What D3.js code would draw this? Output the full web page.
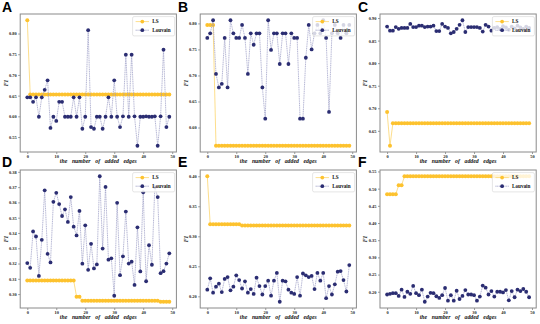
<!DOCTYPE html>
<html><head><meta charset="utf-8">
<script src="https://cdn.jsdelivr.net/npm/d3@7"></script>
<style>
html,body{margin:0;padding:0;background:#fff;}
svg{display:block;}
</style></head>
<body>
<svg id="chart" width="540" height="324"></svg>
<script>
// ---------- data ----------
const addedEdges = [0,1,2,3,4,5,6,7,8,9,10,11,12,13,14,15,16,17,18,19,20,21,22,23,24,25,26,27,28,29,30,31,32,33,34,35,36,37,38,39,40,41,42,43,44,45,46,47,48,49];
const xTickValues = [0,10,20,30,40,50];
const panelLetters = ["A","B","C","D","E","F"];
const seriesNames = ["LS","Louvain"];

const lsA = [0.832,0.653,0.653,0.653,0.653,0.653,0.653,0.653,0.653,0.653,0.653,0.653,0.653,0.653,0.653,0.653,0.653,0.653,0.653,0.653,0.653,0.653,0.653,0.653,0.653,0.653,0.653,0.653,0.653,0.653,0.653,0.653,0.653,0.653,0.653,0.653,0.653,0.653,0.653,0.653,0.653,0.653,0.653,0.653,0.653,0.653,0.653,0.653,0.653,0.653];
const louvainA = [0.646,0.646,0.635,0.646,0.599,0.646,0.664,0.687,0.572,0.599,
 0.589,0.635,0.635,0.599,0.599,0.599,0.646,0.599,0.646,0.570,
 0.599,0.808,0.574,0.570,0.599,0.599,0.570,0.599,0.646,0.599,
 0.687,0.599,0.574,0.600,0.749,0.599,0.749,0.600,0.529,0.599,
 0.599,0.600,0.599,0.599,0.600,0.529,0.600,0.761,0.574,0.599];
const ticksA = [0.55,0.60,0.65,0.70,0.75,0.80];

const lsB = [0.797,0.797,0.797,0.565,0.565,0.565,0.565,0.565,0.565,0.565,0.565,0.565,0.565,0.565,0.565,0.565,0.565,0.565,0.565,0.565,0.565,0.565,0.565,0.565,0.565,0.565,0.565,0.565,0.565,0.565,0.565,0.565,0.565,0.565,0.565,0.565,0.565,0.565,0.565,0.565,0.565,0.565,0.565,0.565,0.565,0.565,0.565,0.565,0.565,0.565];
const louvainB = [0.772,0.781,0.806,0.703,0.677,0.684,0.772,0.677,0.806,0.781,
 0.772,0.772,0.797,0.772,0.703,0.781,0.759,0.781,0.781,0.677,
 0.617,0.806,0.749,0.781,0.781,0.722,0.781,0.781,0.722,0.781,
 0.772,0.772,0.617,0.617,0.734,0.797,0.750,0.781,0.797,0.781,
 0.806,0.772,0.630,0.781,0.797,0.781,0.772,0.797,0.781,0.797];
const ticksB = [0.60,0.65,0.70,0.75,0.80];

const lsC = [0.692,0.617,0.667,0.667,0.667,0.667,0.667,0.667,0.667,0.667,0.667,0.667,0.667,0.667,0.667,0.667,0.667,0.667,0.667,0.667,0.667,0.667,0.667,0.667,0.667,0.667,0.667,0.667,0.667,0.667,0.667,0.667,0.667,0.667,0.667,0.667,0.667,0.667,0.667,0.667,0.667,0.667,0.667,0.667,0.667,0.667,0.667,0.667,0.667,0.667];
const louvainC = [0.881,0.872,0.872,0.880,0.876,0.878,0.878,0.878,0.887,0.880,
 0.880,0.883,0.883,0.880,0.881,0.881,0.883,0.871,0.871,0.887,
 0.881,0.878,0.866,0.869,0.876,0.885,0.895,0.869,0.880,0.880,
 0.880,0.880,0.878,0.870,0.885,0.881,0.872,0.878,0.880,0.876,
 0.882,0.879,0.874,0.881,0.877,0.883,0.879,0.876,0.881,0.878];
const ticksC = [0.65,0.70,0.75,0.80,0.85,0.90];

const lsD = [0.3089,0.3089,0.3089,0.3089,0.3089,0.3089,0.3089,0.3089,0.3089,0.3089,0.3089,0.3089,0.3089,0.3089,0.3089,0.3089,0.3089,0.2983,0.2983,0.2956,0.2956,0.2956,0.2956,0.2956,0.2956,0.2956,0.2956,0.2956,0.2956,0.2956,0.2956,0.2956,0.2956,0.2956,0.2956,0.2956,0.2956,0.2956,0.2956,0.2956,0.2956,0.2956,0.2956,0.2956,0.2956,0.2956,0.2950,0.2950,0.2950,0.2950];
const louvainD = [0.3203,0.3172,0.3410,0.3377,0.3119,0.3355,0.3679,0.3263,0.3207,0.3604,
 0.3663,0.3589,0.3511,0.3555,0.3472,0.3635,0.3441,0.3384,0.3544,0.3199,
 0.3450,0.3159,0.3329,0.3168,0.3194,0.3771,0.3298,0.3701,0.3225,0.3234,
 0.2989,0.3597,0.3124,0.3247,0.3540,0.3200,0.3212,0.3060,0.3437,0.3148,
 0.3666,0.3084,0.3320,0.3192,0.3700,0.3635,0.3137,0.3150,0.3200,0.3267];
const ticksD = [0.30,0.31,0.32,0.33,0.34,0.35,0.36,0.37,0.38];

const lsE = [0.400,0.320,0.320,0.320,0.320,0.320,0.320,0.320,0.320,0.320,0.320,0.320,0.318,0.318,0.318,0.318,0.318,0.318,0.318,0.318,0.318,0.318,0.318,0.318,0.318,0.318,0.318,0.318,0.318,0.318,0.318,0.318,0.318,0.318,0.318,0.318,0.318,0.318,0.318,0.318,0.318,0.318,0.318,0.318,0.318,0.318,0.318,0.318,0.318,0.318];
const louvainE = [0.211,0.230,0.206,0.216,0.221,0.207,0.229,0.232,0.210,0.216,
 0.235,0.227,0.213,0.225,0.206,0.212,0.204,0.231,0.217,0.203,
 0.217,0.226,0.201,0.226,0.239,0.191,0.226,0.225,0.211,0.206,
 0.204,0.232,0.201,0.238,0.235,0.232,0.234,0.212,0.239,0.226,
 0.239,0.197,0.217,0.203,0.220,0.241,0.242,0.227,0.208,0.252];
const ticksE = [0.20,0.25,0.30,0.35,0.40];

const lsF = [0.484,0.484,0.484,0.484,0.510,0.510,0.536,0.536,0.536,0.536,0.536,0.536,0.536,0.536,0.536,0.536,0.536,0.536,0.536,0.536,0.536,0.536,0.536,0.536,0.536,0.536,0.536,0.536,0.536,0.536,0.536,0.536,0.536,0.536,0.536,0.536,0.536,0.536,0.536,0.536,0.536,0.536,0.536,0.536,0.536,0.536,0.536,0.536,0.536,0.536];
const louvainF = [0.192,0.194,0.196,0.196,0.188,0.206,0.185,0.200,0.194,0.217,
 0.196,0.190,0.206,0.171,0.186,0.197,0.196,0.187,0.182,0.190,
 0.211,0.174,0.190,0.174,0.203,0.179,0.188,0.205,0.192,0.192,
 0.190,0.174,0.186,0.218,0.212,0.192,0.202,0.186,0.200,0.200,
 0.198,0.205,0.175,0.202,0.184,0.206,0.202,0.208,0.200,0.184];
const ticksF = [0.20,0.25,0.30,0.35,0.40,0.45,0.50,0.55];

// ---------- drawing ----------
const panels = [
  {ls: lsA, lv: louvainA, ticks: ticksA},
  {ls: lsB, lv: louvainB, ticks: ticksB},
  {ls: lsC, lv: louvainC, ticks: ticksC},
  {ls: lsD, lv: louvainD, ticks: ticksD},
  {ls: lsE, lv: louvainE, ticks: ticksE},
  {ls: lsF, lv: louvainF, ticks: ticksF}
];

const colLS = "#FDC22E", colLV = "#2B2D72";
const lineLS = "#FCD66F", lineLV = "#9597C2";
const serif = "'Liberation Serif','Times New Roman',serif";
const svg = d3.select("#chart");

const plotLeft = [20.2, 200.2, 380];
const plotTop = [14, 170];
const pw = 156.2, ph = 138;
const letterX = [2, 178, 358];
const letterY = [12, 167];

panels.forEach((p, i) => {
  const col = i % 3, row = Math.floor(i / 3);
  const x0 = plotLeft[col], y0 = plotTop[row];
  const x = d3.scaleLinear().domain([-2.45, 51.45]).range([x0, x0 + pw]);
  const all = p.ls.concat(p.lv);
  const mn = d3.min(all), mx = d3.max(all), pad = (mx - mn) * 0.05;
  const y = d3.scaleLinear().domain([mn - pad, mx + pad]).range([y0 + ph, y0]);
  const g = svg.append("g");

  // axes
  const ax = g.append("g").attr("transform", `translate(0,${y0 + ph})`)
    .call(d3.axisBottom(x).tickValues(xTickValues).tickSize(2).tickPadding(1.2).tickFormat(d3.format("d")));
  const ay = g.append("g").attr("transform", `translate(${x0},0)`)
    .call(d3.axisLeft(y).tickValues(p.ticks).tickSize(2).tickPadding(1.5).tickFormat(d3.format(".2f")));
  [ax, ay].forEach(a => {
    a.select(".domain").remove();
    a.selectAll("line").attr("stroke", "#555").attr("stroke-width", 0.6);
    a.selectAll("text").attr("font-family", serif).attr("font-weight", "bold")
      .attr("font-size", 4.4).attr("fill", "#222");
  });

  // lines & markers
  const line = d3.line().x((d, k) => x(addedEdges[k])).y(d => y(d));
  g.append("path").attr("d", line(p.ls)).attr("fill", "none")
    .attr("stroke", lineLS).attr("stroke-width", 0.8);
  g.selectAll(".mls").data(p.ls).join("circle")
    .attr("cx", (d, k) => x(addedEdges[k])).attr("cy", d => y(d)).attr("r", 2).attr("fill", colLS);
  g.append("path").attr("d", line(p.lv)).attr("fill", "none")
    .attr("stroke", lineLV).attr("stroke-width", 0.7).attr("stroke-dasharray", "1.2,0.6");
  g.selectAll(".mlv").data(p.lv).join("circle")
    .attr("cx", (d, k) => x(addedEdges[k])).attr("cy", d => y(d)).attr("r", 1.9).attr("fill", colLV);

  // frame
  g.append("rect").attr("x", x0).attr("y", y0).attr("width", pw).attr("height", ph)
    .attr("fill", "none").attr("stroke", "#8a8a8a").attr("stroke-width", 1);

  // legend
  const lw = 42, lh = 19.3;
  const lg = g.append("g").attr("transform", `translate(${x0 + pw - lw - 1.8},${y0 + 2.6})`);
  lg.append("rect").attr("width", lw).attr("height", lh).attr("rx", 1.5)
    .attr("fill", "white").attr("fill-opacity", 0.8).attr("stroke", "#d4d4d4").attr("stroke-width", 0.6);
  const rowsY = [5, 13.6];
  const cols = [colLS, colLV], lcols = [lineLS, lineLV];
  seriesNames.forEach((nm, k) => {
    lg.append("line").attr("x1", 3).attr("x2", 16.4).attr("y1", rowsY[k]).attr("y2", rowsY[k])
      .attr("stroke", lcols[k]).attr("stroke-width", 0.8)
      .attr("stroke-dasharray", k === 1 ? "1.2,0.6" : null);
    lg.append("circle").attr("cx", 9.7).attr("cy", rowsY[k]).attr("r", 1.9).attr("fill", cols[k]);
    lg.append("text").attr("x", 19.6).attr("y", rowsY[k]).attr("dy", "0.35em")
      .attr("font-family", serif).attr("font-weight", "bold").attr("font-size", 5.2)
      .attr("fill", "#111").text(nm);
  });

  // axis titles
  g.append("text").attr("x", x0 + pw / 2).attr("y", y0 + ph + 11.3).attr("text-anchor", "middle")
    .attr("font-family", serif).attr("font-weight", "bold").attr("font-style", "italic")
    .attr("font-size", 5.8).attr("word-spacing", "3.2px").attr("fill", "#111")
    .text("the number of added edges");
  g.append("text").attr("transform", `translate(${x0 - 12.6},${y0 + ph / 2}) rotate(-90)`)
    .attr("text-anchor", "middle").attr("font-family", serif).attr("font-weight", "bold")
    .attr("font-style", "italic").attr("font-size", 5.6).attr("fill", "#111").text("F1");

  // panel letter
  svg.append("text").attr("x", letterX[col]).attr("y", letterY[row])
    .attr("font-family", "'Liberation Sans',Arial,sans-serif").attr("font-weight", "bold")
    .attr("font-size", 14).attr("fill", "#000").text(panelLetters[i]);
});
</script>
</body></html>
